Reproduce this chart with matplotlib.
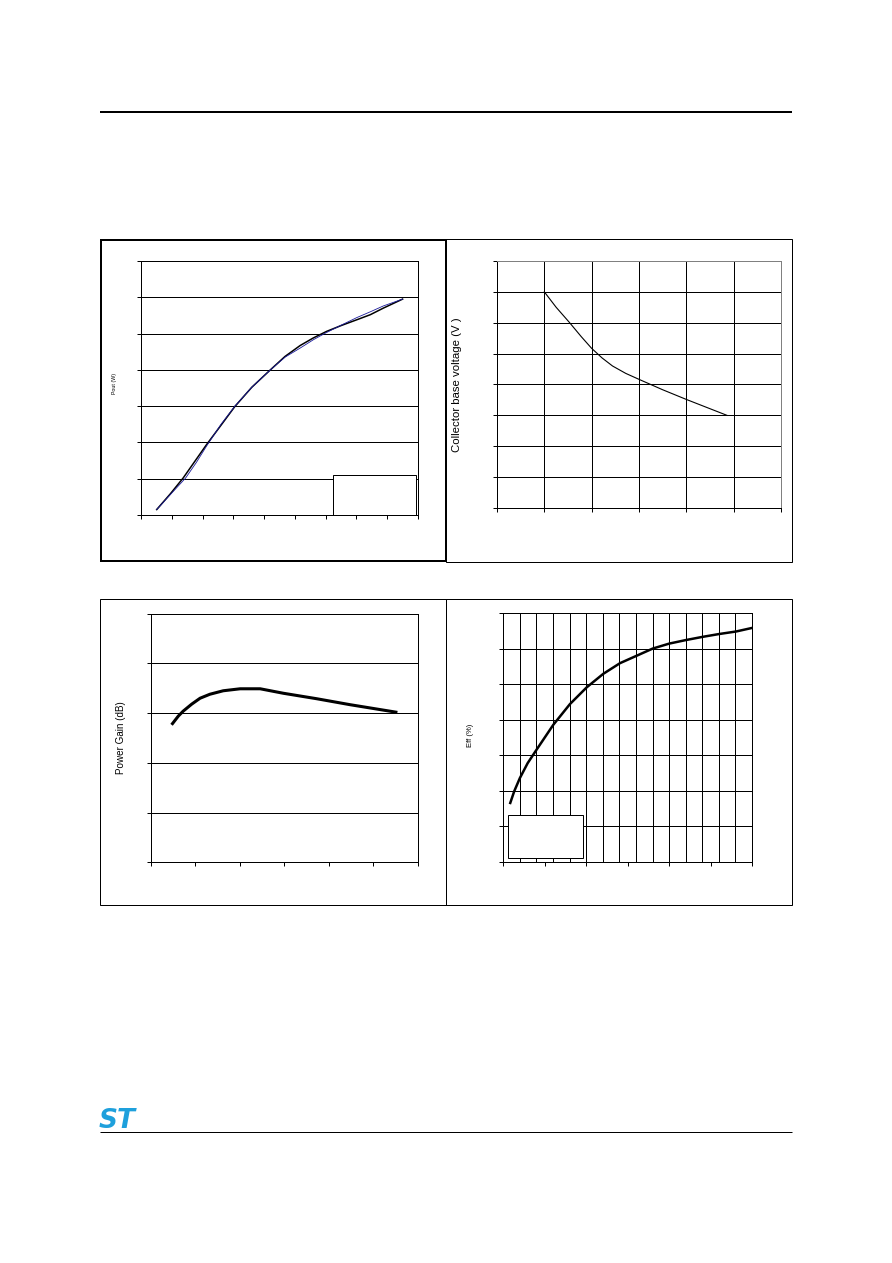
import matplotlib
matplotlib.use("Agg")
import matplotlib.pyplot as plt
from matplotlib.patches import Rectangle
from matplotlib.lines import Line2D

plt.rcParams['font.family'] = ['Liberation Sans', 'DejaVu Sans']

# ---------------- data (axis units = grid divisions) -------------
pout_x = [0.51, 0.95, 1.37, 1.75, 2.13, 2.57, 3.05, 3.6, 4.19, 4.68, 5.17, 5.6, 6.03, 6.5, 7.01, 7.45, 7.87, 8.5]
pout_y = [0.15, 0.58, 1.02, 1.48, 1.94, 2.44, 2.99, 3.52, 3.99, 4.37, 4.67, 4.88, 5.06, 5.22, 5.38, 5.52, 5.70, 5.95]
pout_blue_x = [0.51, 0.95, 1.45, 1.8, 2.13, 2.6, 3.05, 3.6, 4.19, 4.68, 5.17, 5.6, 6.03, 6.5, 7.01, 7.45, 7.87, 8.5]
pout_blue_y = [0.15, 0.56, 1.02, 1.45, 1.90, 2.50, 3.00, 3.52, 3.99, 4.35, 4.60, 4.83, 5.03, 5.23, 5.44, 5.60, 5.76, 5.95]

vcb_x = [1.0, 1.25, 1.53, 1.78, 2.0, 2.22, 2.44, 2.72, 3.01, 3.5, 4.01, 4.56, 4.86]
vcb_y = [7.0, 6.5, 6.01, 5.55, 5.17, 4.86, 4.60, 4.36, 4.16, 3.83, 3.51, 3.18, 3.0]

gain_x = [0.49, 0.62, 0.73, 0.92, 1.11, 1.33, 1.63, 2.01, 2.46, 2.98, 3.73, 4.48, 5.51]
gain_y = [2.79, 2.94, 3.04, 3.18, 3.30, 3.38, 3.45, 3.49, 3.49, 3.40, 3.29, 3.17, 3.02]

eff_x = [0.42, 0.66, 1.0, 1.47, 2.01, 3.02, 4.02, 5.03, 6.03, 7.04, 8.05, 9.01, 10.01, 11.02, 12.03, 13.03, 14.04, 15.0]
eff_y = [1.66, 1.99, 2.36, 2.78, 3.16, 3.86, 4.44, 4.91, 5.29, 5.59, 5.80, 6.00, 6.14, 6.24, 6.33, 6.41, 6.48, 6.58]

W, H = 892, 1263
fig = plt.figure(figsize=(W / 100, H / 100), dpi=100)
PX = 0.72  # points per pixel


def ax_at(l, t, r, b):
    return fig.add_axes([l / W, 1 - b / H, (r - l) / W, (b - t) / H])


def fig_line(x0, y0, x1, y1, lw, color='black'):
    fig.add_artist(Line2D([x0 / W, x1 / W], [1 - y0 / H, 1 - y1 / H], transform=fig.transFigure,
                          color=color, lw=lw, solid_capstyle='butt'))


def fig_box(l, t, r, b, lw):
    fig.add_artist(Rectangle((l / W, 1 - b / H), (r - l) / W, (b - t) / H, transform=fig.transFigure,
                             fill=False, edgecolor='black', lw=lw))


def style(ax, xlim, ylim, xticks, yticks):
    ax.set_xlim(*xlim)
    ax.set_ylim(*ylim)
    ax.set_xticks(xticks)
    ax.set_yticks(yticks)
    ax.set_xticklabels([])
    ax.set_yticklabels([])
    ax.tick_params(direction='out', length=3 * PX * 1.4, width=PX, color='black')
    for s in ax.spines.values():
        s.set_linewidth(PX)
        s.set_color('black')
    ax.set_axisbelow(True)


# page rules
fig_line(100, 112, 792, 112, 2 * PX)
fig_line(100, 1132, 792, 1132, 1 * PX)

# panel frames
fig_box(446, 239, 792, 562, PX)
fig_box(100, 599, 446, 905, PX)
fig_box(446, 599, 792, 905, PX)
fig_box(101, 240, 446, 561, 2 * PX)

# ---- panel 1: Pout ----
ax1 = ax_at(141, 261, 418, 515)
style(ax1, (0, 9), (0, 7), range(0, 10), range(0, 8))
for yv in range(1, 7):
    ax1.axhline(yv, color='black', lw=PX, zorder=1)
ax1.plot(pout_x, pout_y, color='black', lw=1.1, zorder=4)
ax1.plot(pout_blue_x, pout_blue_y, color='#1a1a9a', lw=0.6, zorder=5)
ax1.add_patch(Rectangle((6.25, 0.01), 2.69, 1.08, facecolor='white', edgecolor='black', lw=PX, zorder=3))
fig.text(114 / W, 1 - 384 / H, 'Pout (W)', rotation=90, fontsize=3.8, ha='center', va='center')

# ---- panel 2: Vcb ----
ax2 = ax_at(497, 261, 781, 508)
style(ax2, (0, 6), (0, 8), range(0, 7), range(0, 9))
ax2.spines['top'].set_color('#808080')
ax2.spines['right'].set_color('#808080')
for yv in range(1, 8):
    ax2.axhline(yv, color='black', lw=PX, zorder=1)
for xv in range(1, 6):
    ax2.axvline(xv, color='black', lw=PX, zorder=1)
ax2.plot(vcb_x, vcb_y, color='black', lw=0.8, zorder=4)
fig.text(457.5 / W, 1 - 385 / H, 'Collector base voltage (V )', rotation=90, fontsize=8.2,
         ha='center', va='center')

# ---- panel 3: Power gain ----
ax3 = ax_at(150.7, 613.7, 417.7, 862.3)
style(ax3, (0, 6), (0, 5), range(0, 7), range(0, 6))
for yv in range(1, 5):
    ax3.axhline(yv, color='black', lw=PX, zorder=1)
ax3.plot(gain_x, gain_y, color='black', lw=2.2, zorder=4)
fig.text(121 / W, 1 - 738 / H, 'Power Gain (dB)', rotation=90, fontsize=7.1, ha='center', va='center')

# ---- panel 4: Efficiency ----
ax4 = ax_at(503.3, 613, 752, 862)
style(ax4, (0, 15), (0, 7), [0, 2.5, 5, 7.5, 10, 12.5, 15], range(0, 8))
for yv in range(1, 7):
    ax4.axhline(yv, color='black', lw=PX, zorder=1)
for xv in range(1, 15):
    ax4.axvline(xv, color='black', lw=PX, zorder=1)
ax4.plot(eff_x, eff_y, color='black', lw=1.8, zorder=4)
ax4.add_patch(Rectangle((0.3, 0.11), 4.53, 1.2, facecolor='white', edgecolor='black', lw=PX, zorder=3))
fig.text(471 / W, 1 - 735 / H, 'Eff (%)', rotation=90, fontsize=5.5, ha='center', va='center')

# ST logo
fig.text(99 / W, 1 - 1128 / H, 'ST', fontsize=19, fontweight='bold', fontstyle='italic',
         color='#1ea0dc', ha='left', va='baseline', family=['DejaVu Sans'])

fig.savefig('out.png', dpi=100, facecolor='white')
